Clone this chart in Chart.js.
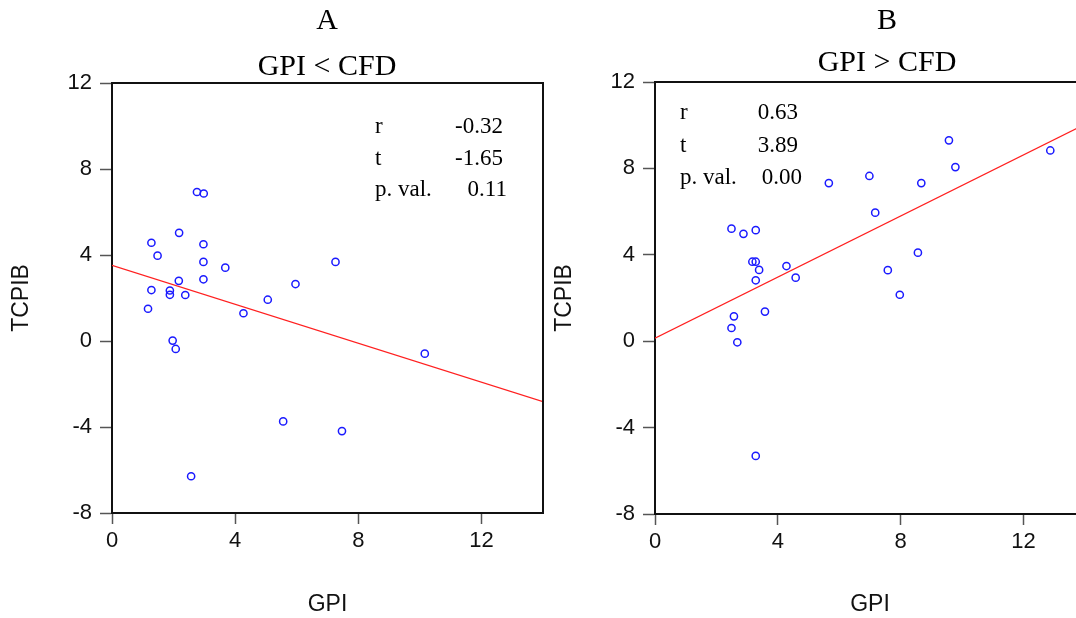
<!DOCTYPE html>
<html>
<head>
<meta charset="utf-8">
<script src="https://cdn.jsdelivr.net/npm/chart.js@4.4.0/dist/chart.umd.min.js"></script>
<style>
  html, body { margin: 0; padding: 0; background: #fff; overflow: hidden; }
  #wrap { position: relative; width: 1076px; height: 618px; overflow: hidden; }
  canvas { position: absolute; top: 0; }
</style>
</head>
<body>
<div id="wrap">
  <canvas id="chartA" width="560" height="618" style="left:0px"></canvas>
  <canvas id="chartB" width="560" height="618" style="left:545px"></canvas>
</div>
<script>
// ticks
const xTicks = [0, 4, 8, 12];
const yTicks = [-8, -4, 0, 4, 8, 12];

// Panel A : GPI < CFD
const gpiA = [2.76, 2.98, 2.18, 1.28, 2.97, 1.48, 2.97, 3.68, 7.26, 2.17, 2.97, 1.28, 1.88,
  1.88, 2.38, 5.96, 5.06, 1.17, 4.27, 1.97, 2.07, 10.16, 5.56, 7.47, 2.57];
const tcpibA = [6.93, 6.86, 5.03, 4.57, 4.50, 3.97, 3.68, 3.41, 3.68, 2.80, 2.87, 2.37, 2.35,
  2.15, 2.14, 2.65, 1.92, 1.50, 1.29, 0.02, -0.37, -0.59, -3.74, -4.19, -6.29];
const fitAx = [0, 14];
const fitAy = [3.52, -2.82];
const statsA = [['r', '-0.32'], ['t', '-1.65'], ['p. val.', '0.11']];

// Panel B : GPI > CFD
const gpiB = [2.49, 2.88, 3.28, 3.17, 3.28, 3.39, 3.28, 4.28, 4.58, 3.58, 2.57, 2.49, 2.68,
  3.28, 5.66, 6.98, 7.17, 8.67, 9.57, 9.78, 12.87, 7.58, 8.56, 7.97];
const tcpibB = [5.21, 4.97, 5.14, 3.68, 3.68, 3.30, 2.82, 3.48, 2.94, 1.37, 1.15, 0.61, -0.05,
  -5.31, 7.32, 7.65, 5.95, 7.32, 9.30, 8.06, 8.83, 3.29, 4.10, 2.15];
const fitBx = [0, 14];
const fitBy = [0.14, 10.04];
const statsB = [['r', '0.63'], ['t', '3.89'], ['p. val.', '0.00']];

const serif = '"Liberation Serif", "Times New Roman", serif';
const sans = '"Liberation Sans", Arial, sans-serif';

// draws the top/right frame, the titles and the r / t / p box
const decorations = {
  id: 'decorations',
  afterDraw(chart, args, o) {
    const ctx = chart.ctx;
    const a = chart.chartArea;
    ctx.save();
    ctx.strokeStyle = '#111';
    ctx.lineWidth = 2;
    ctx.beginPath();
    ctx.moveTo(a.left, a.top);
    ctx.lineTo(a.right, a.top);
    ctx.lineTo(a.right, a.bottom);
    ctx.stroke();

    ctx.fillStyle = '#000';
    ctx.textAlign = 'center';
    ctx.textBaseline = 'middle';
    ctx.font = '30px ' + serif;
    ctx.fillText(o.letter, o.titleX, 21);
    ctx.fillText(o.title, o.titleX, o.subY);

    ctx.font = '23px ' + serif;
    o.stats.forEach((row, i) => {
      const y = o.statY + i * o.statGap;
      ctx.textAlign = 'left';
      ctx.fillText(row[0], o.statX, y);
      ctx.textAlign = 'right';
      ctx.fillText(row[1], i === 2 ? o.valX + 4 : o.valX, y);
    });
    ctx.restore();
  }
};

function makeChart(id, xs, ys, fx, fy, cfg) {
  const pts = xs.map((x, i) => ({ x: x, y: ys[i] }));
  const line = fx.map((x, i) => ({ x: x, y: fy[i] }));
  return new Chart(document.getElementById(id), {
    type: 'scatter',
    data: {
      datasets: [{
        data: pts,
        pointStyle: 'circle',
        pointRadius: 3.6,
        pointBorderWidth: 1.5,
        pointBorderColor: '#1a1aff',
        pointBackgroundColor: 'rgba(0,0,0,0)',
        showLine: false
      }, {
        type: 'line',
        data: line,
        borderColor: '#ff2020',
        borderWidth: 1.2,
        pointRadius: 0,
        fill: false
      }]
    },
    options: {
      responsive: false,
      animation: false,
      events: [],
      layout: { padding: { top: cfg.top, right: cfg.right, left: 0, bottom: 0 } },
      plugins: {
        legend: { display: false },
        tooltip: { enabled: false },
        decorations: cfg.deco
      },
      scales: {
        x: {
          type: 'linear',
          min: 0,
          max: 14,
          afterBuildTicks: s => { s.ticks = xTicks.map(v => ({ value: v })); },
          afterFit: s => { s.height = 618 - cfg.bottom; },
          grid: { drawOnChartArea: false, drawTicks: true, tickLength: 11, tickColor: '#555', tickWidth: 1.5 },
          border: { display: true, color: '#111', width: 2 },
          ticks: { color: '#111', font: { family: sans, size: 22 }, padding: 4 },
          title: { display: true, text: 'GPI', color: '#111', font: { family: sans, size: 23 }, padding: { top: 0, bottom: 0 } }
        },
        y: {
          type: 'linear',
          min: -8,
          max: 12,
          afterBuildTicks: s => { s.ticks = yTicks.map(v => ({ value: v })); },
          afterFit: s => { s.width = cfg.left; },
          grid: { drawOnChartArea: false, drawTicks: true, tickLength: 12, tickColor: '#555', tickWidth: 1.5 },
          border: { display: true, color: '#111', width: 2 },
          ticks: { color: '#111', font: { family: sans, size: 22 }, padding: 8 },
          title: { display: true, text: 'TCPIB', color: '#111', font: { family: sans, size: 23 }, padding: { top: cfg.ytPad, bottom: 0 } }
        }
      }
    },
    plugins: [decorations]
  });
}

makeChart('chartA', gpiA, tcpibA, fitAx, fitAy, {
  top: 83, right: 17, left: 112, bottom: 513, ytPad: 8,
  deco: { letter: 'A', title: 'GPI < CFD', titleX: 327, subY: 67,
    stats: statsA, statX: 375, valX: 503, statY: 127, statGap: 31.5 }
});

makeChart('chartB', gpiB, tcpibB, fitBx, fitBy, {
  top: 82, right: 20, left: 110, bottom: 514, ytPad: 6,
  deco: { letter: 'B', title: 'GPI > CFD', titleX: 887 - 545, subY: 63,
    stats: statsB, statX: 680 - 545, valX: 798 - 545, statY: 113, statGap: 32.5 }
});
</script>
</body>
</html>
